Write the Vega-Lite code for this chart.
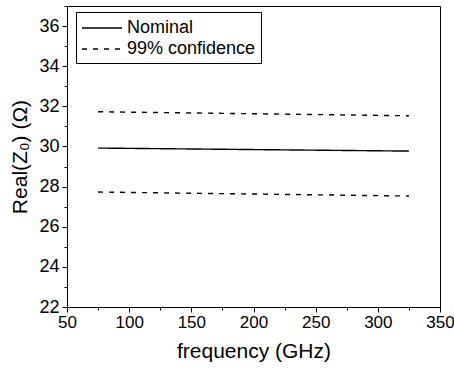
{
  "$schema": "https://vega.github.io/schema/vega-lite/v6.json",
  "width": 373,
  "height": 301,
  "autosize": {"type": "none"},
  "padding": {"left": 67, "top": 6, "right": 14, "bottom": 63},
  "background": "white",
  "config": {
    "font": "Liberation Sans",
    "view": {"stroke": "black", "strokeWidth": 1},
    "axis": {"grid": false, "domainColor": "black", "tickColor": "black", "labelColor": "black", "titleColor": "black", "labelFont": "Liberation Sans", "titleFont": "Liberation Sans", "labelFontSize": 18, "titleFontSize": 21, "titleFontWeight": "normal"}
  },
  "data": {"values": [
    {"f": 75, "z": 29.92, "series": "nominal", "type": "Nominal"},
    {"f": 125, "z": 29.89, "series": "nominal", "type": "Nominal"},
    {"f": 175, "z": 29.86, "series": "nominal", "type": "Nominal"},
    {"f": 225, "z": 29.83, "series": "nominal", "type": "Nominal"},
    {"f": 275, "z": 29.8, "series": "nominal", "type": "Nominal"},
    {"f": 325, "z": 29.77, "series": "nominal", "type": "Nominal"},
    {"f": 75, "z": 31.73, "series": "upper", "type": "99% confidence"},
    {"f": 125, "z": 31.69, "series": "upper", "type": "99% confidence"},
    {"f": 175, "z": 31.65, "series": "upper", "type": "99% confidence"},
    {"f": 225, "z": 31.61, "series": "upper", "type": "99% confidence"},
    {"f": 275, "z": 31.57, "series": "upper", "type": "99% confidence"},
    {"f": 325, "z": 31.53, "series": "upper", "type": "99% confidence"},
    {"f": 75, "z": 27.73, "series": "lower", "type": "99% confidence"},
    {"f": 125, "z": 27.69, "series": "lower", "type": "99% confidence"},
    {"f": 175, "z": 27.65, "series": "lower", "type": "99% confidence"},
    {"f": 225, "z": 27.61, "series": "lower", "type": "99% confidence"},
    {"f": 275, "z": 27.57, "series": "lower", "type": "99% confidence"},
    {"f": 325, "z": 27.53, "series": "lower", "type": "99% confidence"}
  ]},
  "mark": {"type": "line", "color": "black", "strokeWidth": 1.4},
  "encoding": {
    "x": {
      "field": "f", "type": "quantitative",
      "scale": {"domain": [50, 350], "nice": false, "zero": false},
      "axis": {
        "title": "frequency (GHz)",
        "values": [50, 75, 100, 125, 150, 175, 200, 225, 250, 275, 300, 325, 350],
        "labelExpr": "datum.value % 50 === 0 ? datum.label : ''",
        "tickSize": {"expr": "datum.value % 50 === 0 ? 5 : 3"},
        "labelFontSize": 17,
        "labelPadding": 2,
        "titlePadding": 10,
        "labelFlush": false
      }
    },
    "y": {
      "field": "z", "type": "quantitative",
      "scale": {"domain": [22, 37], "nice": false, "zero": false},
      "axis": {
        "title": "Real(Z₀) (Ω)",
        "values": [22, 23, 24, 25, 26, 27, 28, 29, 30, 31, 32, 33, 34, 35, 36, 37],
        "labelExpr": "datum.value % 2 === 0 ? datum.label : ''",
        "tickSize": {"expr": "datum.value % 2 === 0 ? 5 : 3"},
        "labelPadding": 3,
        "titlePadding": 8,
        "labelFlush": false
      }
    },
    "detail": {"field": "series"},
    "strokeDash": {
      "field": "type", "type": "nominal",
      "scale": {"domain": ["Nominal", "99% confidence"], "range": [[1, 0], [5, 6]]},
      "legend": {
        "title": null,
        "orient": "none",
        "legendX": 9,
        "legendY": 6,
        "strokeColor": "black",
        "fillColor": "white",
        "padding": 5,
        "symbolType": "M-1,0H3",
        "symbolSize": 400,
        "symbolStrokeColor": "black",
        "symbolFillColor": "transparent",
        "symbolStrokeWidth": 1.4,
        "labelFontSize": 18,
        "labelColor": "black",
        "labelFont": "Liberation Sans",
        "rowPadding": 1,
        "labelOffset": 24
      }
    }
  }
}
